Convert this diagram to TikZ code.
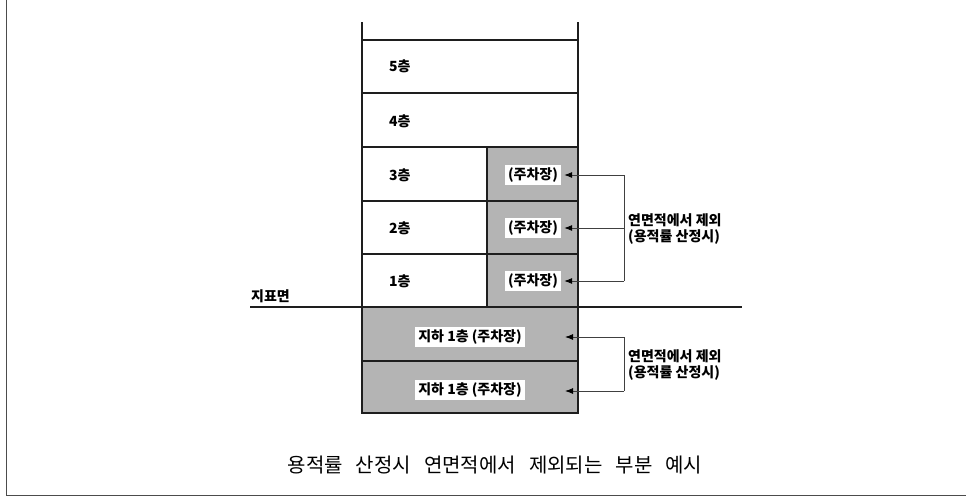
\documentclass[tikz,border=0pt]{standalone}
\usepackage{fontspec}
\setmainfont{Noto Sans CJK KR}
\usetikzlibrary{arrows.meta}
\definecolor{parkgray}{RGB}{180,180,180}
\definecolor{linedark}{RGB}{30,30,30}
\begin{document}
\begin{tikzpicture}[x=1pt,y=-1pt,
  wall/.style={draw=linedark, line width=1.6pt},
  floorbox/.style={draw=linedark, line width=1.6pt, anchor=north west, inner sep=0pt, outer sep=0pt},
  park/.style={floorbox, fill=parkgray},
  lbl/.style={font=\bfseries\fontsize{14}{16}\selectfont, inner sep=0pt},
  tag/.style={lbl, fill=white, inner xsep=3pt, inner ysep=2.5pt},
  br/.style={draw=black!75, line width=0.9pt},
  arr/.style={br, -{Latex[length=8pt,width=6pt,color=black]}}]
\useasboundingbox (0,0) rectangle (966,498);
% frame
\draw[draw=black!70, line width=1.5pt] (6.5,0) -- (6.5,495.5) -- (966,495.5);
% floors
\node[floorbox, minimum width=216pt, minimum height=53pt] (f5) at (362,40) {};
\node[floorbox, minimum width=216pt, minimum height=54pt] (f4) at (362,93) {};
\node[floorbox, minimum width=125pt, minimum height=54pt] (f3) at (362,147) {};
\node[park, minimum width=91pt, minimum height=54pt] (p3) at (487,147) {};
\node[floorbox, minimum width=125pt, minimum height=53pt] (f2) at (362,201) {};
\node[park, minimum width=91pt, minimum height=53pt] (p2) at (487,201) {};
\node[floorbox, minimum width=125pt, minimum height=53pt] (f1) at (362,254) {};
\node[park, minimum width=91pt, minimum height=53pt] (p1) at (487,254) {};
\node[park, minimum width=216pt, minimum height=54pt] (b1) at (362,307) {};
\node[park, minimum width=216pt, minimum height=52pt] (b2) at (362,361) {};
% walls above
\draw[wall] (f5.north west) -- ++(0,-18);
\draw[wall] (f5.north east) -- ++(0,-18);
% ground line
\coordinate (g1) at (250,307);
\coordinate (g2) at (742,307);
\draw[draw=linedark, line width=1.4pt] (g1) -- (g2);
\node[lbl, anchor=south west] (gl) at (251,303) {지표면};
% floor labels
\node[lbl, anchor=west] (t5) at (389,66) {5층};
\node[lbl, anchor=west] (t4) at (389,121) {4층};
\node[lbl, anchor=west] (t3) at (389,175) {3층};
\node[lbl, anchor=west] (t2) at (389,228) {2층};
\node[lbl, anchor=west] (t1) at (389,281) {1층};
% parking tags
\node[tag] (tp3) at (533,175) {(주차장)};
\node[tag] (tp2) at (533,228) {(주차장)};
\node[tag] (tp1) at (533,281) {(주차장)};
\node[tag] (tb1) at (470,337) {지하 1층 (주차장)};
\node[tag] (tb2) at (470,390) {지하 1층 (주차장)};
% brackets upper
\coordinate (k3) at (624,175);
\coordinate (k2) at (624,228);
\coordinate (k1) at (624,281);
\draw[br] (k3) -- (k1);
\draw[arr] (k3) -- ([xshift=3pt]tp3.east);
\draw[arr] (k2) -- ([xshift=3pt]tp2.east);
\draw[arr] (k1) -- ([xshift=3pt]tp1.east);
\node[lbl, align=left, anchor=west] (s1) at (628,229) {연면적에서 제외\\(용적률 산정시)};
% brackets lower
\coordinate (c1) at (624,337);
\coordinate (c2) at (624,391);
\coordinate (e1) at (565,337);
\coordinate (e2) at (565,391);
\draw[br] (c1) -- (c2);
\draw[arr] (c1) -- (e1);
\draw[arr] (c2) -- (e2);
\node[lbl, align=left, anchor=west] (s2) at (628,365) {연면적에서 제외\\(용적률 산정시)};
% caption
\node[font=\fontsize{20}{24}\selectfont, inner sep=0pt] (cap) at (495,465) {용적률\hspace{13pt}산정시\hspace{13pt}연면적에서\hspace{13pt}제외되는\hspace{13pt}부분\hspace{13pt}예시};
\end{tikzpicture}
\end{document}
